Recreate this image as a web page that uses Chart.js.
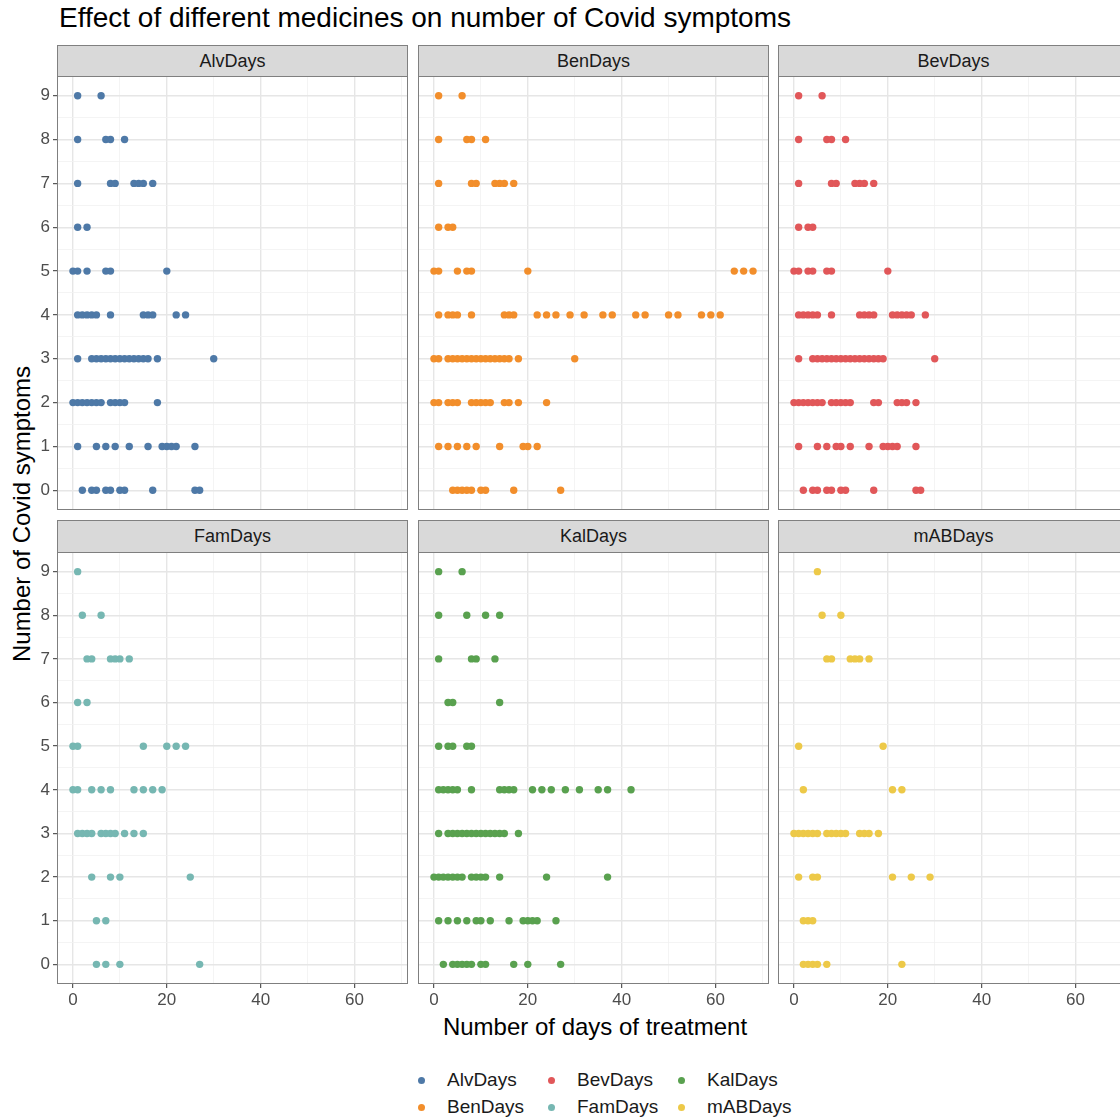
<!DOCTYPE html>
<html>
<head>
<meta charset="utf-8">
<script src="https://cdn.jsdelivr.net/npm/chart.js@4/dist/chart.umd.min.js"></script>
<style>
  html, body { margin: 0; padding: 0; background: #fff; overflow: hidden; }
  body { width: 1120px; height: 1119px; position: relative; font-family: "Liberation Sans", Arial, sans-serif; }
  .abs { position: absolute; }
  .strip { position: absolute; background: #d9d9d9; border: 1px solid #808080; box-sizing: border-box;
           color: #1a1a1a; font-size: 18px; text-align: center; }
  .legend-item { position: absolute; font-size: 19px; color: #1a1a1a; line-height: 20px; }
  .dot { position: absolute; width: 7px; height: 7px; border-radius: 50%; }
</style>
</head>
<body>
<div class="abs" style="left:59px; top:2px; font-size:28px; color:#000; white-space:nowrap;">Effect of different medicines on number of Covid symptoms</div>
<div class="abs" style="left:22px; top:514px; font-size:24px; color:#000; white-space:nowrap; transform:translate(-50%,-50%) rotate(-90deg);">Number of Covid symptoms</div>
<div class="abs" style="left:595px; top:1027px; font-size:24px; color:#000; white-space:nowrap; transform:translate(-50%,-50%);">Number of days of treatment</div>
<div id="panels"></div>
<div id="legend"></div>

<script>
// panel names and colours
const medicines = ["AlvDays", "BenDays", "BevDays", "FamDays", "KalDays", "mABDays"];
const colors = ["#4e79a7", "#f28e2b", "#e15759", "#76b7b2", "#59a14f", "#edc948"];

// days of treatment, grouped by number of symptoms (index 0..9)
const alvDays = [
  [2, 4, 5, 7, 8, 10, 11, 17, 26, 27],
  [1, 5, 7, 9, 12, 16, 19, 20, 21, 22, 26],
  [0, 1, 2, 3, 4, 5, 6, 8, 9, 10, 11, 18],
  [1, 4, 5, 6, 7, 8, 9, 10, 11, 12, 13, 14, 15, 16, 18, 30],
  [1, 2, 3, 4, 5, 8, 15, 16, 17, 22, 24],
  [0, 1, 3, 7, 8, 20],
  [1, 3],
  [1, 8, 9, 13, 14, 15, 17],
  [1, 7, 8, 11],
  [1, 6]
];
const benDays = [
  [4, 5, 6, 7, 8, 10, 11, 17, 27],
  [1, 3, 5, 7, 9, 14, 19, 20, 22],
  [0, 1, 3, 4, 5, 8, 9, 10, 11, 12, 15, 16, 18, 24],
  [0, 1, 3, 4, 5, 6, 7, 8, 9, 10, 11, 12, 13, 14, 15, 16, 18, 30],
  [1, 3, 4, 5, 8, 15, 16, 17, 22, 24, 26, 29, 32, 36, 38, 43, 45, 50, 52, 57, 59, 61],
  [0, 1, 5, 7, 8, 20, 64, 66, 68],
  [1, 3, 4],
  [1, 8, 9, 13, 14, 15, 17],
  [1, 7, 8, 11],
  [1, 6]
];
const bevDays = [
  [2, 4, 5, 7, 8, 10, 11, 17, 26, 27],
  [1, 5, 7, 9, 10, 12, 16, 19, 20, 21, 22, 26],
  [0, 1, 2, 3, 4, 5, 6, 8, 9, 10, 11, 12, 17, 18, 22, 23, 24, 26],
  [1, 4, 5, 6, 7, 8, 9, 10, 11, 12, 13, 14, 15, 16, 17, 18, 19, 30],
  [1, 2, 3, 4, 5, 8, 14, 15, 16, 17, 21, 22, 23, 24, 25, 28],
  [0, 1, 3, 4, 7, 8, 20],
  [1, 3, 4],
  [1, 8, 9, 13, 14, 15, 17],
  [1, 7, 8, 11],
  [1, 6]
];
const famDays = [
  [5, 7, 10, 27],
  [5, 7],
  [4, 8, 10, 25],
  [1, 2, 3, 4, 6, 7, 8, 9, 11, 13, 15],
  [0, 1, 4, 6, 8, 13, 15, 17, 19],
  [0, 1, 15, 20, 22, 24],
  [1, 3],
  [3, 4, 8, 9, 10, 12],
  [2, 6],
  [1]
];
const kalDays = [
  [2, 4, 5, 6, 7, 8, 10, 11, 17, 20, 27],
  [1, 3, 5, 7, 9, 10, 12, 16, 19, 20, 21, 22, 26],
  [0, 1, 2, 3, 4, 5, 6, 8, 9, 10, 11, 14, 24, 37],
  [1, 3, 4, 5, 6, 7, 8, 9, 10, 11, 12, 13, 14, 15, 18],
  [1, 2, 3, 4, 5, 8, 14, 15, 16, 17, 21, 23, 25, 28, 31, 35, 37, 42],
  [1, 3, 4, 7, 8],
  [3, 4, 14],
  [1, 8, 9, 13],
  [1, 7, 11, 14],
  [1, 6]
];
const mabDays = [
  [2, 3, 4, 5, 7, 23],
  [2, 3, 4],
  [1, 4, 5, 21, 25, 29],
  [0, 1, 2, 3, 4, 5, 7, 8, 9, 10, 11, 14, 15, 16, 18],
  [2, 21, 23],
  [1, 19],
  [],
  [7, 8, 12, 13, 14, 16],
  [6, 10],
  [5]
];

// axis ticks
const xGridValues = [0, 10, 20, 30, 40, 50, 60, 70];
const xTickLabels = [0, 20, 40, 60];
const yGridValues = [0, 0.5, 1, 1.5, 2, 2.5, 3, 3.5, 4, 4.5, 5, 5.5, 6, 6.5, 7, 7.5, 8, 8.5, 9];
const yTickLabels = [0, 1, 2, 3, 4, 5, 6, 7, 8, 9];

const allDays = [alvDays, benDays, bevDays, famDays, kalDays, mabDays];

// layout of the facets
const colLeft = [57, 418, 778];
const rowTop = [76, 552];
const rowHeight = [434, 432];
const stripTop = [45, 520];
const plotW = 351;
const PAD = 20, YW = 40, XH = 30;

const panelBorder = {
  id: "panelBorder",
  afterDraw(chart) {
    const { ctx, chartArea: a } = chart;
    ctx.save();
    ctx.strokeStyle = "#7f7f7f";
    ctx.lineWidth = 1;
    ctx.strokeRect(a.left + 0.5, a.top + 0.5, a.width - 1, a.height - 1);
    ctx.restore();
  }
};

function toPoints(rows) {
  const pts = [];
  rows.forEach((days, n) => days.forEach(d => pts.push({ x: d, y: n })));
  return pts;
}

const panels = document.getElementById("panels");

medicines.forEach((name, i) => {
  const col = i % 3, row = Math.floor(i / 3);
  const left = colLeft[col], top = rowTop[row], h = rowHeight[row];
  const showY = col === 0, showX = row === 1;

  const strip = document.createElement("div");
  strip.className = "strip";
  strip.style.left = left + "px";
  strip.style.top = stripTop[row] + "px";
  strip.style.width = plotW + "px";
  strip.style.height = (top - stripTop[row] + 1) + "px";
  strip.style.lineHeight = (top - stripTop[row] - 1) + "px";
  strip.textContent = name;
  panels.appendChild(strip);

  const canvas = document.createElement("canvas");
  const cw = PAD + YW + plotW + PAD, ch = PAD + h + XH + PAD;
  canvas.width = cw;
  canvas.height = ch;
  canvas.style.position = "absolute";
  canvas.style.left = (left - YW - PAD) + "px";
  canvas.style.top = (top - PAD) + "px";
  canvas.style.width = cw + "px";
  canvas.style.height = ch + "px";
  panels.appendChild(canvas);

  new Chart(canvas.getContext("2d"), {
    type: "scatter",
    data: {
      datasets: [{
        label: name,
        data: toPoints(allDays[i]),
        backgroundColor: colors[i],
        borderWidth: 0,
        pointRadius: 3.7,
        pointHoverRadius: 3.7
      }]
    },
    options: {
      responsive: false,
      animation: false,
      events: [],
      layout: { padding: PAD },
      plugins: { legend: { display: false }, tooltip: { enabled: false } },
      scales: {
        x: {
          type: "linear",
          min: -3.4,
          max: 71.4,
          afterBuildTicks: s => { s.ticks = xGridValues.map(v => ({ value: v })); },
          afterFit: s => { s.height = XH; },
          border: { display: false },
          grid: {
            color: c => (c.tick && c.tick.value % 20 === 0) ? "#e6e6e6" : "#f1f1f1",
            lineWidth: c => (c.tick && c.tick.value % 20 === 0) ? 1.4 : 0.8,
            drawTicks: showX,
            tickLength: 4,
            tickColor: c => (c.tick && c.tick.value % 20 === 0) ? "#333" : "rgba(0,0,0,0)",
            tickWidth: 1
          },
          ticks: {
            display: showX,
            autoSkip: false,
            maxRotation: 0,
            padding: 2,
            color: "#4d4d4d",
            font: { family: "Liberation Sans", size: 17 },
            callback: v => xTickLabels.includes(v) ? String(v) : ""
          }
        },
        y: {
          type: "linear",
          min: -0.45,
          max: 9.45,
          afterBuildTicks: s => { s.ticks = yGridValues.map(v => ({ value: v })); },
          afterFit: s => { s.width = YW; },
          border: { display: false },
          grid: {
            color: c => (c.tick && Number.isInteger(c.tick.value)) ? "#e6e6e6" : "#f1f1f1",
            lineWidth: c => (c.tick && Number.isInteger(c.tick.value)) ? 1.4 : 0.8,
            drawTicks: showY,
            tickLength: 4,
            tickColor: c => (c.tick && Number.isInteger(c.tick.value)) ? "#333" : "rgba(0,0,0,0)",
            tickWidth: 1
          },
          ticks: {
            display: showY,
            autoSkip: false,
            padding: 3,
            color: "#4d4d4d",
            font: { family: "Liberation Sans", size: 17 },
            callback: v => yTickLabels.includes(v) ? String(v) : ""
          }
        }
      }
    },
    plugins: [panelBorder]
  });
});

// legend: 3 columns, 2 rows, filled column by column
const legendDotX = [421, 551, 681];
const legendTextX = [447, 577, 707];
const legendRowY = [1080, 1107];
const legend = document.getElementById("legend");
medicines.forEach((name, i) => {
  const col = Math.floor(i / 2), row = i % 2;
  const dot = document.createElement("div");
  dot.className = "dot";
  dot.style.background = colors[i];
  dot.style.left = (legendDotX[col] - 3.5) + "px";
  dot.style.top = (legendRowY[row] - 3.5) + "px";
  legend.appendChild(dot);
  const t = document.createElement("div");
  t.className = "legend-item";
  t.style.left = legendTextX[col] + "px";
  t.style.top = (legendRowY[row] - 10) + "px";
  t.textContent = name;
  legend.appendChild(t);
});
</script>
</body>
</html>
